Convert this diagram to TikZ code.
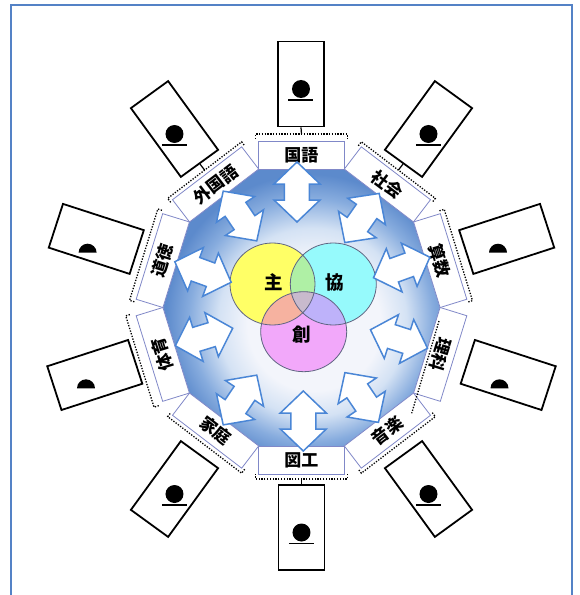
\documentclass[tikz,border=0pt]{standalone}
\usepackage{fontspec}
\newfontfamily\jp{Noto Sans CJK JP}
\usetikzlibrary{calc}
\definecolor{frameblue}{RGB}{84,130,198}
\definecolor{arrowblue}{RGB}{74,134,214}
\definecolor{labelline}{RGB}{128,136,200}
\definecolor{dcA}{RGB}{243,245,251}
\definecolor{dcB}{RGB}{212,226,244}
\definecolor{dcC}{RGB}{135,172,222}
\definecolor{dcD}{RGB}{92,138,204}
\definecolor{vyel}{RGB}{255,255,102}
\definecolor{vcya}{RGB}{150,250,252}
\definecolor{vpnk}{RGB}{242,168,250}
\definecolor{vyc}{RGB}{175,240,165}
\definecolor{vyp}{RGB}{246,178,160}
\definecolor{vcp}{RGB}{190,178,250}
\definecolor{vall}{RGB}{200,186,205}
\definecolor{vline}{RGB}{95,100,130}
\pgfdeclareradialshading{decsh}{\pgfpoint{3bp}{-4bp}}{color(0bp)=(dcA); color(12bp)=(dcA); color(17bp)=(dcB); color(22bp)=(dcC); color(26bp)=(dcD); color(50bp)=(dcD)}
\tikzset{
  lab/.style={draw=labelline, line width=0.8pt, fill=white, minimum height=28pt, inner sep=0pt, font=\jp\bfseries\fontsize{17pt}{17pt}\selectfont},
  card/.style={draw=black, line width=1.8pt, fill=white, minimum width=46pt, minimum height=85pt, inner sep=0pt},
  arr/.style={draw=arrowblue, line width=1.5pt, fill=white, line join=miter},
  brk/.style={line width=1.3pt, black, dash pattern=on 1.3pt off 1.5pt},
  vtext/.style={font=\jp\bfseries\fontsize{18.5pt}{18.5pt}\selectfont, inner sep=0pt},
  vring/.style={draw=vline, line width=0.8pt}
}
\newcommand\dblarrow[3]{%
  \begin{scope}[shift={(#1,#2)},rotate=#3]
    \draw[arr] (30,0) -- (8,23) -- (8,12.5) -- (-8,12.5) -- (-8,23) -- (-30,0) -- (-8,-23) -- (-8,-12.5) -- (8,-12.5) -- (8,-23) -- cycle;
  \end{scope}}
\newcommand\halfdot[2]{\fill (#1,#2) ++(-9,0) arc[start angle=180,end angle=0,radius=9] -- cycle;}
\newcommand\fulldot[1]{%
  \fill ($(#1.center)+(0,-5)$) circle (9);
  \draw[line width=1.3pt] ($(#1.center)+(-12.5,-16)$) -- ($(#1.center)+(12.5,-16)$);}
\begin{document}
\begin{tikzpicture}[x=1pt,y=1pt]
\useasboundingbox (-301.5,-287.5) rectangle (278.5,307.5);
% outer frame
\draw[frameblue, line width=2pt] (-290.5,-300) rectangle (270.5,302.5);
% decagon
\foreach \k in {0,...,9} \coordinate (v\k) at (\k*36:138.5 and 145.6);
\shade[shading=decsh] (v0) -- (v1) -- (v2) -- (v3) -- (v4) -- (v5) -- (v6) -- (v7) -- (v8) -- (v9) -- cycle;
% Venn
\fill[vyel] (-29,23.5) ellipse (42.5 and 41);
\fill[vcya] (31.8,23.5) ellipse (43 and 41);
\fill[vpnk] (2.2,-24.2) ellipse (43 and 40);
\begin{scope}\clip (-29,23.5) ellipse (42.5 and 41); \fill[vyc] (31.8,23.5) ellipse (43 and 41);\end{scope}
\begin{scope}\clip (-29,23.5) ellipse (42.5 and 41); \fill[vyp] (2.2,-24.2) ellipse (43 and 40);\end{scope}
\begin{scope}\clip (31.8,23.5) ellipse (43 and 41); \fill[vcp] (2.2,-24.2) ellipse (43 and 40);\end{scope}
\begin{scope}\clip (-29,23.5) ellipse (42.5 and 41); \clip (31.8,23.5) ellipse (43 and 41); \fill[vall] (2.2,-24.2) ellipse (43 and 40);\end{scope}
\draw[vring] (-29,23.5) ellipse (42.5 and 41);
\draw[vring] (31.8,23.5) ellipse (43 and 41);
\draw[vring] (2.2,-24.2) ellipse (43 and 40);
\node[vtext] (tshu) at (-28.2,25.8) {主};
\node[vtext] (tkyo) at (33.5,24.5) {協};
\node[vtext] (tso) at (0.2,-27.5) {創};
% labels
\node[lab, rotate=0, minimum width=85.6pt] (lab1) at (0,152.5) {国語};
\node[lab, rotate=-37.4, minimum width=87.1pt] (lab2) at (85.9,123.1) {社会};
\node[lab, rotate=-72.8, minimum width=89.6pt] (lab3) at (138.7,46.9) {算数};
\node[lab, rotate=-107.2, minimum width=89.6pt] (lab4) at (138.7,-46.9) {理科};
\node[lab, rotate=37.4, minimum width=87.1pt] (lab5) at (85.9,-123.1) {音楽};
\node[lab, rotate=0, minimum width=85.6pt] (lab6) at (0,-152.5) {図工};
\node[lab, rotate=-37.4, minimum width=87.1pt] (lab7) at (-85.9,-123.1) {家庭};
\node[lab, rotate=107.2, minimum width=89.6pt] (lab8) at (-138.7,-46.9) {体育};
\node[lab, rotate=72.8, minimum width=89.6pt] (lab9) at (-138.7,46.9) {道徳};
\node[lab, rotate=37.4, minimum width=87.1pt] (lab10) at (-85.9,123.1) {外国語};
% dotted brackets
\foreach \cx/\cy/\r/\w/\d/\n in {0/152.5/0/85.6/7/b1, 85.9/123.1/-37.4/87.1/4/b2, 138.7/46.9/-72.8/89.6/5/b3, 85.9/-123.1/-142.6/87.1/4/b5, 0/-152.5/-180/85.6/5/b6, -85.9/-123.1/142.6/87.1/4/b7, -138.7/-46.9/107.2/89.6/10/b8, -138.7/46.9/72.8/89.6/6/b9, -85.9/123.1/37.4/87.1/4/b10}{
  \begin{scope}[shift={(\cx,\cy)},rotate=\r]
    \draw[brk] (-\w/2-3,14+\d-5) -- (-\w/2-3,14+\d) -- (\w/2+3,14+\d) -- (\w/2+3,14+\d-5);
    \coordinate (\n) at (0,14+\d);
  \end{scope}}
\draw[brk] (137.5,-13.5) -- (110.2,-105.8);
% cards
\node[card, rotate=0] (c1) at (-0.5,223.5) {};
\node[card, rotate=-36] (c2) at (127,178.5) {};
\node[card, rotate=-72] (c3) at (205.2,68.6) {};
\node[card, rotate=-108] (c4) at (206.7,-67.5) {};
\node[card, rotate=-144] (c5) at (127,-181.5) {};
\node[card, rotate=-180] (c6) at (0,-220) {};
\node[card, rotate=-216] (c7) at (-127,-181.5) {};
\node[card, rotate=-252] (c8) at (-206.7,-67.5) {};
\node[card, rotate=72] (c9) at (-205.2,68.6) {};
\node[card, rotate=36] (c10) at (-127,178.5) {};
\fulldot{c1}\fulldot{c2}\fulldot{c5}\fulldot{c6}\fulldot{c7}\fulldot{c10}
\halfdot{196.5}{54.8}
\halfdot{198}{-80.8}
\halfdot{-213.9}{54.8}
\halfdot{-215.5}{-80.8}
% connectors card -> bracket
\draw[line width=1.2pt] (c1.south) -- (b1);
\draw[line width=1.2pt] (c2.south) -- (b2);
\draw[line width=1.2pt] (c6.south) -- (b6);
\draw[line width=1.2pt] (c10.south) -- (b10);
% arrows
\dblarrow{-4.5}{115.5}{90}
\dblarrow{60.5}{89.5}{55}
\dblarrow{100.2}{40}{20}
\dblarrow{97.5}{-31.5}{-18}
\dblarrow{60.2}{-90}{-56}
\dblarrow{1.8}{-113.5}{-90}
\dblarrow{-61.5}{-92.5}{-124}
\dblarrow{-97.5}{-29.5}{-163}
\dblarrow{-98.5}{35.5}{160}
\dblarrow{-61.5}{91.5}{124}
\end{tikzpicture}
\end{document}
